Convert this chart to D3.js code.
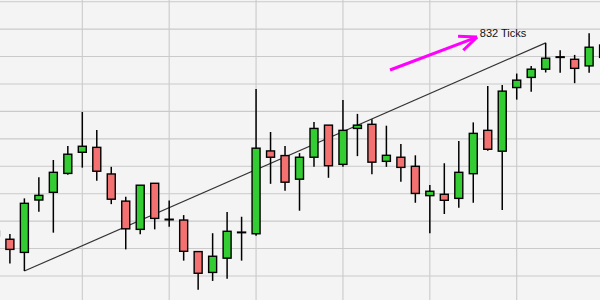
<!DOCTYPE html>
<html>
<head>
<meta charset="utf-8">
<script src="https://cdn.jsdelivr.net/npm/d3@7"></script>
<style>
  html, body { margin: 0; padding: 0; background: #f4f4f4; }
  svg { display: block; }
</style>
</head>
<body>
<svg id="chart" width="600" height="300"></svg>
<script>
// Bar numbers (bar -1 is cut off at the left edge, bar 41 at the right)
const bars   = d3.range(-1, 42);
// Prices in ticks
const opens  = [1164,1134,1086,1277,1305,1374,1451,1469,1372,1273,1170,1338,1207,1204,1089,1013,1065,1160,1154,1456,1439,1353,1433,1550,1407,1538,1553,1418,1433,1400,1293,1298,1283,1373,1531,1455,1687,1724,1754,1799,1790,1766,1842];
const highs  = [1179,1153,1283,1360,1423,1474,1598,1532,1398,1289,1331,1338,1275,1222,1089,1156,1233,1216,1682,1525,1474,1448,1561,1550,1642,1591,1571,1548,1481,1440,1332,1411,1492,1560,1693,1696,1738,1766,1850,1823,1806,1885,1860];
const lows   = [1131,1046,1018,1234,1158,1369,1395,1347,1262,1097,1152,1170,1180,1056, 950, 982, 990,1056,1147,1336,1311,1238,1398,1358,1398,1437,1371,1398,1344,1267,1156,1226,1249,1267,1457,1241,1643,1672,1742,1741,1703,1741,1780];
const closes = [1146,1097,1265,1294,1378,1444,1473,1382,1280,1172,1331,1210,1207,1090,1010,1072,1163,1160,1466,1433,1342,1433,1538,1402,1531,1550,1415,1440,1396,1301,1309,1276,1378,1520,1462,1674,1714,1754,1794,1799,1757,1834,1797];

// Price grid levels and bar numbers carrying a vertical grid line
const priceLevels = d3.range(1000, 2001, 100);
const gridBars = [5, 11, 17, 23, 29, 35];

// Measured swing: low of bar 1 to high of bar 37
const swingFrom = 1, swingTo = 37;

// Pointer arrow (bar number, price) and its caption anchor
const arrowStart = [26.25, 1751];
const arrowEnd   = [32.26, 1871];
const captionAt  = [32.45, 1871];

const W = 600, H = 300;
const svg = d3.select("#chart");

const x = d3.scaleLinear().domain([0, 41]).range([9.9, 603.6]);
const y = d3.scaleLinear().domain([912.5, 2006.2]).range([H, 0]);

const data = bars.map((b, k) => ({
  b, o: opens[k], h: highs[k], l: lows[k], c: closes[k]
}));

svg.append("rect").attr("width", W).attr("height", H).attr("fill", "#f4f4f4");

// Grid
const grid = svg.append("g").attr("stroke", "#cacaca").attr("stroke-width", 1.1);
grid.selectAll("line.h").data(priceLevels).join("line")
  .attr("class", "h")
  .attr("x1", 0).attr("x2", W)
  .attr("y1", d => y(d)).attr("y2", d => y(d));
grid.selectAll("line.v").data(gridBars).join("line")
  .attr("class", "v")
  .attr("y1", 0).attr("y2", H)
  .attr("x1", d => x(d)).attr("x2", d => x(d));

// Swing line from the low to the high
const lowPt  = data.find(d => d.b === swingFrom);
const highPt = data.find(d => d.b === swingTo);
svg.append("line")
  .attr("x1", x(lowPt.b)).attr("y1", y(lowPt.l))
  .attr("x2", x(highPt.b)).attr("y2", y(highPt.h))
  .attr("stroke", "#333").attr("stroke-width", 1.2);

// Candles
const bodyW = 8;
const candles = svg.append("g").selectAll("g").data(data).join("g");
candles.append("line")
  .attr("x1", d => x(d.b)).attr("x2", d => x(d.b))
  .attr("y1", d => y(d.h)).attr("y2", d => y(d.l))
  .attr("stroke", "#000").attr("stroke-width", 1.5);
candles.append("rect")
  .attr("x", d => x(d.b) - bodyW / 2)
  .attr("width", bodyW)
  .attr("y", d => y(Math.max(d.o, d.c)))
  .attr("height", d => Math.max(0.6, Math.abs(y(d.o) - y(d.c))))
  .attr("fill", d => d.c > d.o ? "#33cc33" : d.c < d.o ? "#f37171" : "#000")
  .attr("stroke", "#000").attr("stroke-width", 1.4);

// Arrow with the measured size of the swing
const ax0 = x(arrowStart[0]), ay0 = y(arrowStart[1]);
const ax1 = x(arrowEnd[0]),   ay1 = y(arrowEnd[1]);
const ang = Math.atan2(ay1 - ay0, ax1 - ax0);
const headLen = 19, headSpread = 23 * Math.PI / 180;
const arrow = svg.append("g")
  .attr("stroke", "#ff00ff").attr("stroke-width", 3).attr("stroke-linecap", "butt").attr("fill", "none");
arrow.append("line").attr("x1", ax0).attr("y1", ay0).attr("x2", ax1).attr("y2", ay1);
[-headSpread, headSpread].forEach(s => {
  arrow.append("line")
    .attr("x1", ax1).attr("y1", ay1)
    .attr("x2", ax1 - headLen * Math.cos(ang + s))
    .attr("y2", ay1 - headLen * Math.sin(ang + s));
});

svg.append("text")
  .attr("x", x(captionAt[0])).attr("y", y(captionAt[1]))
  .attr("font-family", "Liberation Sans, Arial, sans-serif")
  .attr("font-size", 11)
  .attr("fill", "#111")
  .text(`${highPt.h - lowPt.l} Ticks`);
</script>
</body>
</html>
